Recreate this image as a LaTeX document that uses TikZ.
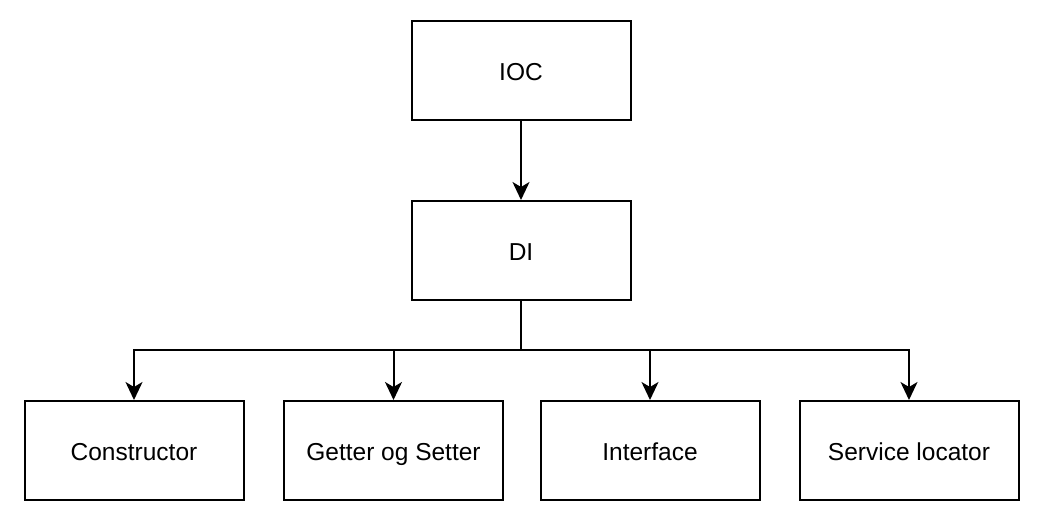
\documentclass[tikz,border=0pt]{standalone}
\usepackage{fontspec}
\setmainfont{Liberation Sans}
\usetikzlibrary{arrows.meta}
\begin{document}
\begin{tikzpicture}[x=1pt,y=-1pt,
  box/.style={draw=black,line width=2pt,minimum width=219pt,minimum height=99pt,inner sep=0pt,text height=20pt,text depth=0pt,font=\fontsize{24.5}{28}\selectfont},
  conn/.style={line width=2pt,-{Stealth[length=18pt,width=17pt,inset=5pt]}}]
\useasboundingbox (0,0) rectangle (1044,526);
\node[box] (ioc) at (521,71) {IOC};
\node[box] (di) at (521,250.5) {DI};
\node[box] (c) at (134,450.5) {Constructor};
\node[box] (g) at (393.5,450.5) {Getter og Setter};
\node[box] (i) at (650,450.5) {Interface};
\node[box] (s) at (909,450.5) {Service locator};
\coordinate (j) at (521,350);
\draw[conn] (ioc) -- (di);
\draw[conn] (di.south) -- (j) -| (c.north);
\draw[conn] (j) -| (g.north);
\draw[conn] (j) -| (i.north);
\draw[conn] (j) -| (s.north);
\end{tikzpicture}
\end{document}
